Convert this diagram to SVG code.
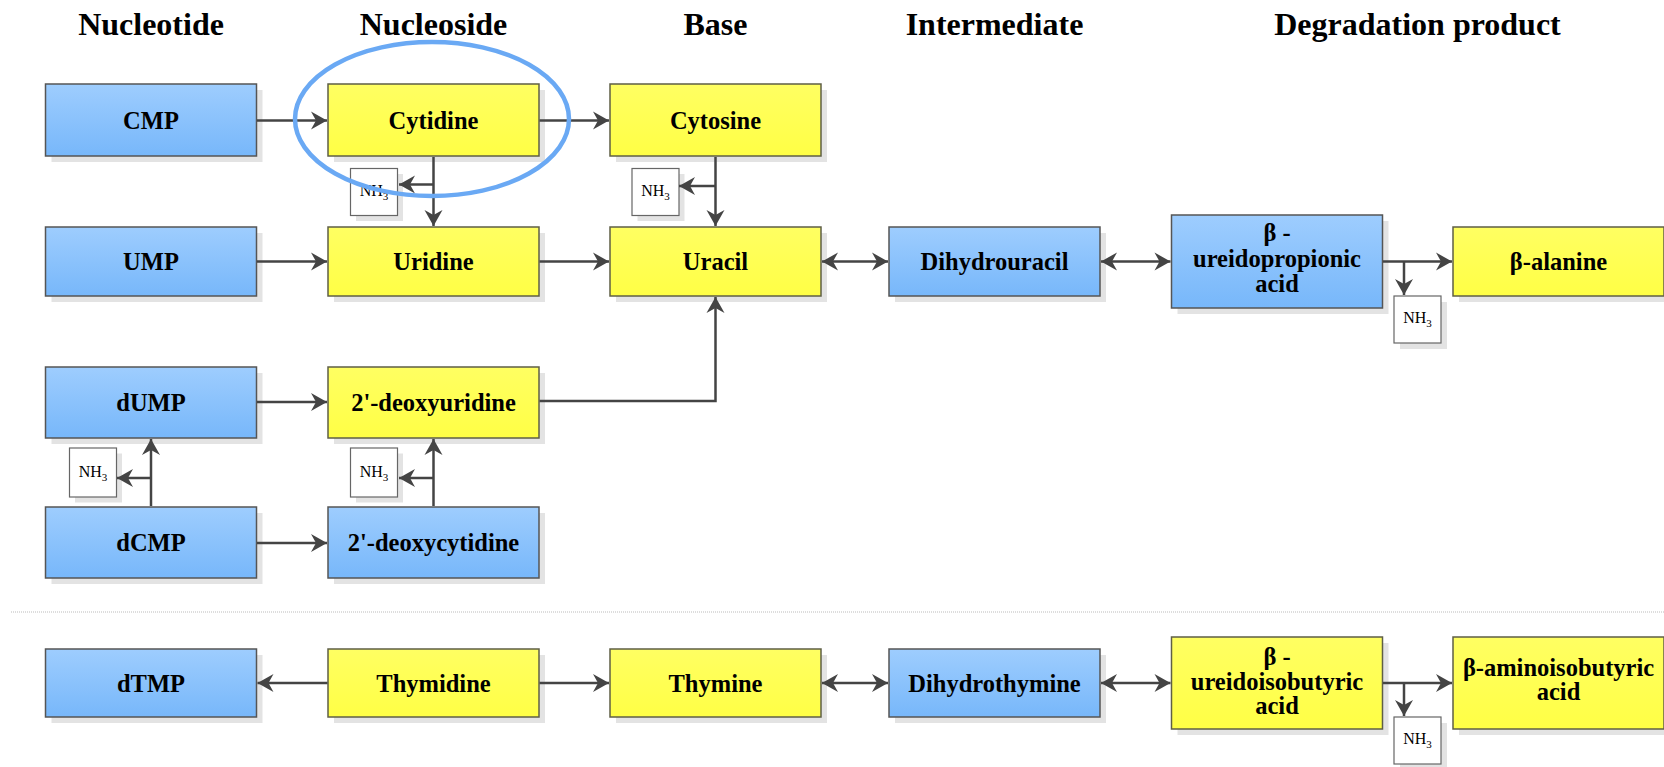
<svg xmlns="http://www.w3.org/2000/svg" width="1664" height="767" viewBox="0 0 1664 767">
<style>
.blue{fill:url(#gb);stroke:#555;stroke-width:1.5}
.yellow{fill:url(#gy);stroke:#5f5f45;stroke-width:1.5}
.nhbox{fill:#fff;stroke:#666;stroke-width:1.2}
.shadow{fill:#e3e3e3}
.lbl{font-family:"Liberation Serif","Times New Roman",serif;font-weight:bold;font-size:24.5px;text-anchor:middle;fill:#000}
.hdr{font-family:"Liberation Serif","Times New Roman",serif;font-weight:bold;font-size:32px;text-anchor:middle;fill:#000}
.nh{font-family:"Liberation Serif","Times New Roman",serif;font-size:16px;text-anchor:middle;fill:#000}
.sub{font-size:11px}
.conn path{fill:none;stroke:#444;stroke-width:2.5}
.arr{marker-end:url(#ah)}
.dbl{marker-start:url(#ah);marker-end:url(#ah)}
</style>
<defs>
<linearGradient id="gb" x1="0" y1="0" x2="0" y2="1">
<stop offset="0" stop-color="#9ecdfe"/>
<stop offset="1" stop-color="#77b7fa"/>
</linearGradient>
<linearGradient id="gy" x1="0" y1="0" x2="0" y2="1">
<stop offset="0" stop-color="#ffff62"/>
<stop offset="1" stop-color="#ffff45"/>
</linearGradient>
<marker id="ah" viewBox="-17 -10 18 20" refX="0" refY="0" markerWidth="18" markerHeight="20" markerUnits="userSpaceOnUse" orient="auto-start-reverse">
<path d="M0,0 L-16,-9 L-11,0 L-16,9 Z" fill="#444"/>
</marker>
</defs>
<rect width="1664" height="767" fill="#fff"/>

<g id="headers">
<text class="hdr" x="151" y="35">Nucleotide</text>
<text class="hdr" x="433.5" y="35">Nucleoside</text>
<text class="hdr" x="715.5" y="35">Base</text>
<text class="hdr" x="994.5" y="35">Intermediate</text>
<text class="hdr" x="1417.5" y="35">Degradation product</text>
</g>

<line x1="11" y1="612" x2="1664" y2="612" stroke="#bbb" stroke-width="1" stroke-dasharray="1,1"/>

<g id="CMP"><rect class="shadow" x="51.5" y="90" width="211" height="72"/><rect class="blue" x="45.5" y="84" width="211" height="72"/><text class="lbl" x="151" y="129">CMP</text></g>
<g id="Cytidine"><rect class="shadow" x="334" y="90" width="211" height="72"/><rect class="yellow" x="328" y="84" width="211" height="72"/><text class="lbl" x="433.5" y="129">Cytidine</text></g>
<g id="Cytosine"><rect class="shadow" x="616" y="90" width="211" height="72"/><rect class="yellow" x="610" y="84" width="211" height="72"/><text class="lbl" x="715.5" y="129">Cytosine</text></g>
<g id="NH3-cytidine"><rect class="shadow" x="356" y="174" width="47" height="47"/><rect class="nhbox" x="350.5" y="168.5" width="47" height="47"/><text class="nh" x="374" y="196">NH<tspan class="sub" dy="4">3</tspan></text></g>
<g id="NH3-cytosine"><rect class="shadow" x="637.5" y="174" width="47" height="47"/><rect class="nhbox" x="632" y="168.5" width="47" height="47"/><text class="nh" x="655.5" y="196">NH<tspan class="sub" dy="4">3</tspan></text></g>

<g id="UMP"><rect class="shadow" x="51.5" y="233" width="211" height="69"/><rect class="blue" x="45.5" y="227" width="211" height="69"/><text class="lbl" x="151" y="270">UMP</text></g>
<g id="Uridine"><rect class="shadow" x="334" y="233" width="211" height="69"/><rect class="yellow" x="328" y="227" width="211" height="69"/><text class="lbl" x="433.5" y="270">Uridine</text></g>
<g id="Uracil"><rect class="shadow" x="616" y="233" width="211" height="69"/><rect class="yellow" x="610" y="227" width="211" height="69"/><text class="lbl" x="715.5" y="270">Uracil</text></g>
<g id="Dihydrouracil"><rect class="shadow" x="895" y="233" width="211" height="69"/><rect class="blue" x="889" y="227" width="211" height="69"/><text class="lbl" x="994.5" y="270">Dihydrouracil</text></g>
<g id="ureidopropionic"><rect class="shadow" x="1177.5" y="221" width="211" height="93"/><rect class="blue" x="1171.5" y="215" width="211" height="93"/><text class="lbl" x="1277" y="241">β -</text><text class="lbl" x="1277" y="267">ureidopropionic</text><text class="lbl" x="1277" y="292">acid</text></g>
<g id="beta-alanine"><rect class="shadow" x="1459" y="233" width="211" height="69"/><rect class="yellow" x="1453" y="227" width="211" height="69"/><text class="lbl" x="1558.5" y="270">β-alanine</text></g>
<g id="NH3-alanine"><rect class="shadow" x="1400" y="302" width="47" height="47"/><rect class="nhbox" x="1394" y="296" width="47" height="47"/><text class="nh" x="1417.5" y="323">NH<tspan class="sub" dy="4">3</tspan></text></g>

<g id="dUMP"><rect class="shadow" x="51.5" y="373" width="211" height="71"/><rect class="blue" x="45.5" y="367" width="211" height="71"/><text class="lbl" x="151" y="411">dUMP</text></g>
<g id="deoxyuridine"><rect class="shadow" x="334" y="373" width="211" height="71"/><rect class="yellow" x="328" y="367" width="211" height="71"/><text class="lbl" x="433.5" y="411">2'-deoxyuridine</text></g>
<g id="NH3-dcmp"><rect class="shadow" x="75" y="453.5" width="47" height="49"/><rect class="nhbox" x="69.5" y="448" width="47" height="49"/><text class="nh" x="93" y="477">NH<tspan class="sub" dy="4">3</tspan></text></g>
<g id="NH3-deoxycytidine"><rect class="shadow" x="356" y="453.5" width="47" height="49"/><rect class="nhbox" x="350.5" y="448" width="47" height="49"/><text class="nh" x="374" y="477">NH<tspan class="sub" dy="4">3</tspan></text></g>
<g id="dCMP"><rect class="shadow" x="51.5" y="513" width="211" height="71"/><rect class="blue" x="45.5" y="507" width="211" height="71"/><text class="lbl" x="151" y="551">dCMP</text></g>
<g id="deoxycytidine"><rect class="shadow" x="334" y="513" width="211" height="71"/><rect class="blue" x="328" y="507" width="211" height="71"/><text class="lbl" x="433.5" y="551">2'-deoxycytidine</text></g>

<g id="dTMP"><rect class="shadow" x="51.5" y="655" width="211" height="68"/><rect class="blue" x="45.5" y="649" width="211" height="68"/><text class="lbl" x="151" y="691.5">dTMP</text></g>
<g id="Thymidine"><rect class="shadow" x="334" y="655" width="211" height="68"/><rect class="yellow" x="328" y="649" width="211" height="68"/><text class="lbl" x="433.5" y="691.5">Thymidine</text></g>
<g id="Thymine"><rect class="shadow" x="616" y="655" width="211" height="68"/><rect class="yellow" x="610" y="649" width="211" height="68"/><text class="lbl" x="715.5" y="691.5">Thymine</text></g>
<g id="Dihydrothymine"><rect class="shadow" x="895" y="655" width="211" height="68"/><rect class="blue" x="889" y="649" width="211" height="68"/><text class="lbl" x="994.5" y="691.5">Dihydrothymine</text></g>
<g id="ureidoisobutyric"><rect class="shadow" x="1177.5" y="643" width="211" height="92"/><rect class="yellow" x="1171.5" y="637" width="211" height="92"/><text class="lbl" x="1277" y="665">β -</text><text class="lbl" x="1277" y="690">ureidoisobutyric</text><text class="lbl" x="1277" y="714">acid</text></g>
<g id="aminoisobutyric"><rect class="shadow" x="1459" y="643" width="211" height="92"/><rect class="yellow" x="1453" y="637" width="211" height="92"/><text class="lbl" x="1558.5" y="676">β-aminoisobutyric</text><text class="lbl" x="1558.5" y="700">acid</text></g>
<g id="NH3-aminoisobutyric"><rect class="shadow" x="1400" y="723" width="47" height="47"/><rect class="nhbox" x="1394" y="717" width="47" height="47"/><text class="nh" x="1417.5" y="744">NH<tspan class="sub" dy="4">3</tspan></text></g>

<g class="conn" id="connectors">
<path class="arr" d="M257,120.5 H327"/>
<path class="arr" d="M539.5,120.5 H609"/>
<path class="arr" d="M433.5,157 V226"/>
<path class="arr" d="M433.5,184.5 H399"/>
<path class="arr" d="M715.5,157 V226"/>
<path class="arr" d="M715.5,186 H679"/>
<path class="arr" d="M257,261.5 H327"/>
<path class="arr" d="M539.5,261.5 H609"/>
<path class="dbl" d="M822,261.5 H888"/>
<path class="dbl" d="M1101,261.5 H1170.5"/>
<path class="arr" d="M1383,261.5 H1452"/>
<path class="arr" d="M1404,261.5 V295"/>
<path class="arr" d="M257,402 H327"/>
<path class="arr" d="M539.5,401 H715.5 V297"/>
<path class="arr" d="M257,543 H327"/>
<path class="arr" d="M151,506 V439"/>
<path class="arr" d="M151,478 H117"/>
<path class="arr" d="M433.5,506 V439"/>
<path class="arr" d="M433.5,478 H399"/>
<path class="arr" d="M327.5,683 H257.5"/>
<path class="arr" d="M539.5,683 H609"/>
<path class="dbl" d="M822,683 H888"/>
<path class="dbl" d="M1101,683 H1170.5"/>
<path class="arr" d="M1383,683 H1452"/>
<path class="arr" d="M1404,683 V716"/>
</g>

<g id="highlight"><ellipse cx="432" cy="119" rx="137" ry="77" fill="none" stroke="#6aa9f4" stroke-width="4.5"/></g>
</svg>
